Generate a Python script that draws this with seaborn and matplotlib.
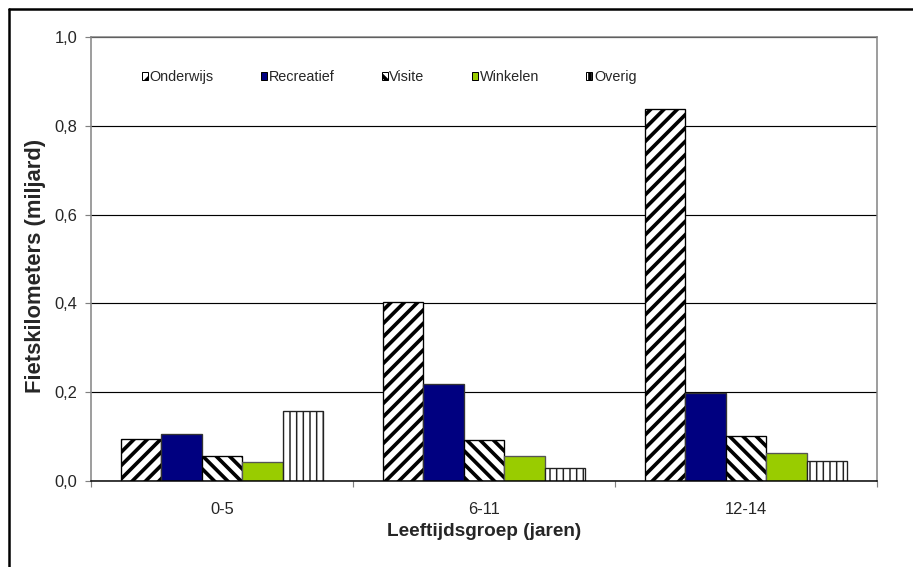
import matplotlib
matplotlib.use("Agg")
import matplotlib.pyplot as plt
from matplotlib.patches import Patch
from matplotlib.lines import Line2D
import seaborn as sns
import pandas as pd

# Cycling distance by age group and trip purpose (billion km)
groepen = ["0-5", "6-11", "12-14"]
doelen = ["Onderwijs", "Recreatief", "Visite", "Winkelen", "Overig"]
onderwijs = [0.094, 0.404, 0.837]
recreatief = [0.105, 0.218, 0.198]
visite = [0.056, 0.093, 0.101]
winkelen = [0.043, 0.056, 0.064]
overig = [0.158, 0.030, 0.046]
y_ticks = [0.0, 0.2, 0.4, 0.6, 0.8, 1.0]
y_ticklabels = ["0,0", "0,2", "0,4", "0,6", "0,8", "1,0"]

waarden = [onderwijs, recreatief, visite, winkelen, overig]
rows = []
for doel, reeks in zip(doelen, waarden):
    for groep, v in zip(groepen, reeks):
        rows.append({"groep": groep, "doel": doel, "km": v})
df = pd.DataFrame(rows)

# fill, edge, hatch, hatch line width per purpose
stijl = {
    "Onderwijs": ("white", "black", "///", 2.2),
    "Recreatief": ("#000080", "#333333", "", 1.0),
    "Visite": ("white", "black", "\\\\\\", 2.2),
    "Winkelen": ("#99CC00", "#555555", "", 1.0),
    "Overig": ("white", "#222222", "|||", 0.9),
}

sns.set_style("white")
plt.rcParams["font.family"] = ["Liberation Sans", "DejaVu Sans"]
plt.rcParams["hatch.linewidth"] = 2.2

DPI = 120
fig = plt.figure(figsize=(913 / DPI, 567 / DPI), dpi=DPI)
ax = fig.add_axes([91 / 913, 1 - 481 / 567, (877 - 91) / 913, (481 - 37) / 567])

palette = {d: stijl[d][0] for d in doelen}
sns.barplot(data=df, x="groep", y="km", hue="doel", order=groepen,
            hue_order=doelen, palette=palette, saturation=1, width=0.773,
            legend=False, ax=ax, linewidth=0.8, edgecolor="black", errorbar=None)

for doel, cont in zip(doelen, ax.containers):
    fc, ec, hatch, hlw = stijl[doel]
    for p in cont:
        p.set_facecolor(fc)
        p.set_edgecolor(ec)
        p.set_hatch(hatch)
        if hasattr(p, "set_hatch_linewidth"):
            p.set_hatch_linewidth(hlw)
        p.set_zorder(3)

ax.set_ylim(0, 1.0)
ax.set_xlim(-0.5, 2.5)
ax.set_yticks(y_ticks)
ax.set_yticklabels(y_ticklabels)
ax.yaxis.grid(True, color="black", linewidth=0.7, zorder=1)
ax.set_axisbelow(True)

for side in ["left", "right", "top"]:
    ax.spines[side].set_visible(True)
    ax.spines[side].set_color("#808080")
    ax.spines[side].set_linewidth(0.9)
ax.spines["bottom"].set_color("black")
ax.spines["bottom"].set_linewidth(0.9)
ax.spines["bottom"].set_zorder(4)

ax.tick_params(axis="y", which="major", direction="out", length=3.6, width=0.7,
               color="#808080", pad=4.8, labelsize=9.9, left=True)
ax.set_xticks([-0.5, 0.5, 1.5, 2.5], minor=True)
ax.tick_params(axis="x", which="minor", direction="out", length=3.3, width=0.7,
               color="#808080", bottom=True)
ax.tick_params(axis="x", which="major", length=0, pad=12.5, labelsize=9.9)

ax.set_xlabel("Leeftijdsgroep (jaren)", fontsize=11.4, fontweight="bold", labelpad=4)
ax.set_ylabel("Fietskilometers (miljard)", fontsize=13.2, fontweight="bold")
ax.yaxis.set_label_coords(-0.057, 0.485)

handles = [Patch(facecolor=stijl[d][0], edgecolor="black", hatch=stijl[d][2],
                 linewidth=0.6, label=d) for d in doelen]
ax.legend(handles=handles, loc="center left", bbox_to_anchor=(0.0645, 0.91),
          ncol=5, frameon=False, fontsize=8.6, handlelength=0.42, handleheight=0.42,
          handletextpad=0.12, columnspacing=3.3, borderpad=0, borderaxespad=0)

# outer chart frame (left and top edges)
fig.add_artist(Line2D([8.5 / 913, 8.5 / 913], [0, 1 - 8.5 / 567],
                      color="black", linewidth=1.5, transform=fig.transFigure))
fig.add_artist(Line2D([8.5 / 913, 1], [1 - 8.5 / 567, 1 - 8.5 / 567],
                      color="black", linewidth=1.5, transform=fig.transFigure))

fig.savefig("out.png", dpi=DPI, facecolor="white")
